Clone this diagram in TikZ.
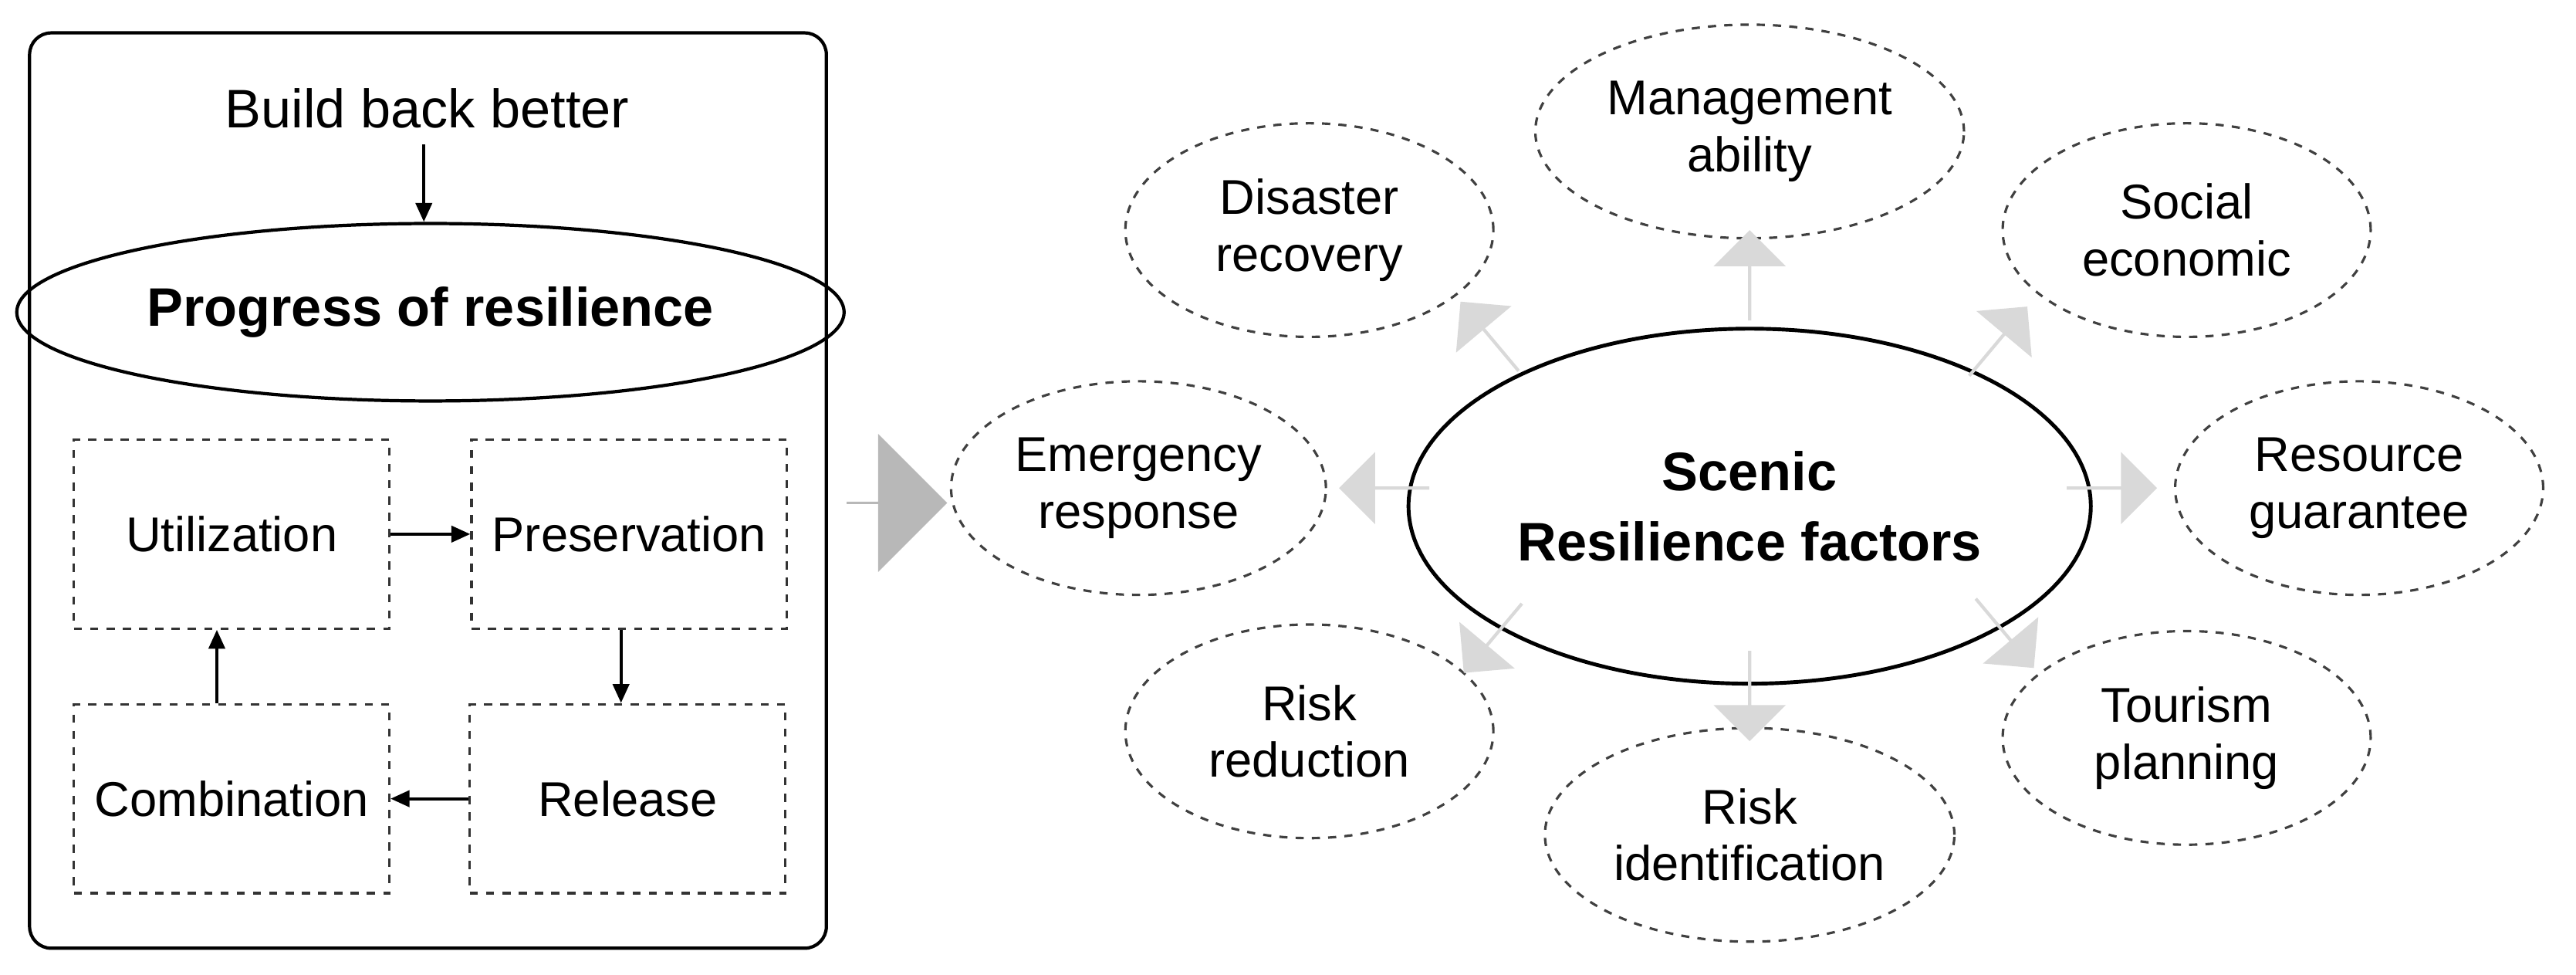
\documentclass[tikz,border=0pt]{standalone}
\usepackage{fontspec}
\setmainfont{Liberation Sans}
\usetikzlibrary{shapes.geometric,shapes.arrows,arrows.meta}
\newdimen\myu
\myu=0.02129cm
\begin{document}
\begin{tikzpicture}[x=0.02129cm,y=-0.02129cm,
  lbl/.style={font=\fontsize{18}{21}\selectfont,align=center},
  fac/.style={draw=black!75,dashed,line width=0.9pt,ellipse,minimum width=224\myu,minimum height=130\myu,lbl},
  box/.style={draw=black!80,dashed,line width=0.9pt,minimum width=192\myu,minimum height=115\myu,lbl},
  ga/.style={single arrow,fill=black!15,draw=none,minimum height=55\myu,minimum width=44\myu,single arrow head extend=7\myu,inner sep=0pt},
  arr/.style={-{Triangle[length=7pt,width=6pt]},line width=1.2pt}]
\useasboundingbox (0,0) rectangle (1568,593);
\draw[line width=1.2pt,rounded corners=8pt] (18,20) rectangle (503,577);
\node[lbl,font=\fontsize{20}{24}\selectfont] (bbb) at (260,66) {Build back better};
\node[draw,ellipse,line width=1.2pt,minimum width=448\myu,minimum height=108\myu,font=\bfseries\fontsize{20}{24}\selectfont] (pr) at (262,190) {Progress of resilience};
\coordinate (bt) at (258,88);
\draw[arr] (bt) -- (bt |- pr.north);
\node[box] (u) at (141,325) {Utilization};
\node[box] (p) at (383,325) {Preservation};
\node[box] (c) at (141,486) {Combination};
\node[box] (r) at (382,486) {Release};
\coordinate (xp) at (378,0);
\coordinate (xc) at (132,0);
\draw[arr] (u.east) -- (p.west);
\draw[arr] (p.south -| xp) -- (r.north -| xp);
\draw[arr] (r.west) -- (c.east);
\draw[arr] (c.north -| xc) -- (u.south -| xc);
% big arrow
\node[single arrow,fill=black!28,draw=none,minimum height=62\myu,minimum width=84\myu,single arrow head extend=20\myu,inner sep=0pt,anchor=tip] (big) at (577,306) {};
\foreach \x in {509,512,515}{\draw[white,line width=0.6pt] (\x,285) -- (\x,327);}
% center
\node[draw,ellipse,line width=1.4pt,minimum width=354\myu,minimum height=216\myu,font=\bfseries\fontsize{20}{26}\selectfont,align=center] (sc) at (1065,308) {Scenic\\Resilience factors};
\node[fac] (ma) at (1065,80) {Management\\ability};
\node[fac] (dr) at (797,140) {Disaster\\recovery};
\node[fac] (se) at (1331,140) {Social\\economic};
\node[fac] (er) at (693,297) {Emergency\\response};
\node[fac] (rg) at (1436,297) {Resource\\guarantee};
\node[fac] (rr) at (797,445) {Risk\\reduction};
\node[fac] (tp) at (1331,449) {Tourism\\planning};
\node[fac,minimum width=216\myu] (ri) at (1065,508) {Risk\\identification};
% gray arrows
\node[ga,rotate=90] (a1) at (1065,168) {};
\node[ga,rotate=-90] (a2) at (1065,423) {};
\node[ga,rotate=180] (a3) at (843,297) {};
\node[ga] (a4) at (1285,297) {};
\node[ga,rotate=130] (a5) at (907,205) {};
\node[ga,rotate=50] (a6) at (1216,208) {};
\node[ga,rotate=-130] (a7) at (909,388) {};
\node[ga,rotate=-50] (a8) at (1220,385) {};
\end{tikzpicture}
\end{document}
